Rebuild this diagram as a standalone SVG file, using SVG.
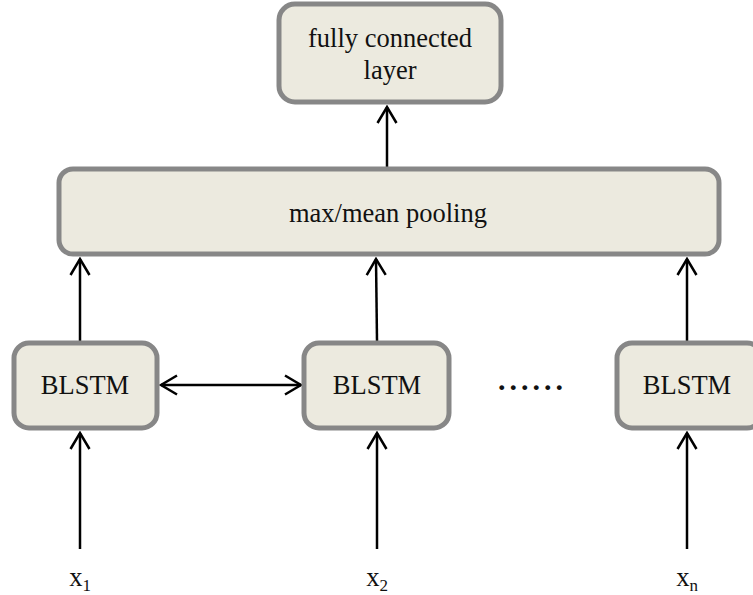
<svg xmlns="http://www.w3.org/2000/svg" width="753" height="595" viewBox="0 0 753 595">
<defs>
<style>
.box{fill:#ECEADF;stroke:#878787;stroke-width:5}
.t{font-family:"Liberation Serif","Times New Roman",serif;font-size:26.5px;fill:#111;text-anchor:middle}
.c{stroke:#000;stroke-width:2.5;fill:none}
.s{font-size:17px}
.d{font-family:"Liberation Serif","Times New Roman",serif;font-size:30px;font-weight:bold;fill:#111;letter-spacing:4px}
</style>
<marker id="ah" viewBox="0 0 20 22" refX="18" refY="11" markerWidth="20" markerHeight="22" markerUnits="userSpaceOnUse" orient="auto-start-reverse">
<path d="M2,1.5 L18,11 L2,20.5" fill="none" stroke="#000" stroke-width="2.5"/>
</marker>
</defs>
<g id="connectors">
<line class="c" x1="387" y1="167" x2="387" y2="107" marker-end="url(#ah)"/>
<line class="c" x1="80" y1="341" x2="80" y2="259" marker-end="url(#ah)"/>
<line class="c" x1="377" y1="341" x2="376" y2="259" marker-end="url(#ah)"/>
<line class="c" x1="687" y1="341" x2="687" y2="259" marker-end="url(#ah)"/>
<line class="c" x1="161" y1="385" x2="301" y2="385" marker-start="url(#ah)" marker-end="url(#ah)"/>
<line class="c" x1="80" y1="549" x2="80" y2="433" marker-end="url(#ah)"/>
<line class="c" x1="377" y1="549" x2="377" y2="433" marker-end="url(#ah)"/>
<line class="c" x1="687" y1="549" x2="687" y2="433" marker-end="url(#ah)"/>
</g>
<g id="fc">
<rect class="box" x="279" y="4" width="222" height="98" rx="16"/>
<text class="t" x="390" y="47">fully connected</text>
<text class="t" x="390" y="79">layer</text>
</g>
<g id="pool">
<rect class="box" x="59" y="169" width="660" height="85" rx="14"/>
<text class="t" x="388" y="222">max/mean pooling</text>
</g>
<g id="blstm1">
<rect class="box" x="14" y="343" width="143" height="85" rx="15"/>
<text class="t" x="85" y="394">BLSTM</text>
</g>
<g id="blstm2">
<rect class="box" x="304" y="343" width="145" height="85" rx="15"/>
<text class="t" x="377" y="394">BLSTM</text>
</g>
<g id="blstm3">
<rect class="box" x="617" y="343" width="145" height="85" rx="15"/>
<text class="t" x="687" y="394">BLSTM</text>
</g>
<g id="dots">
<text class="d" x="498" y="390">......</text>
</g>
<g id="x1"><text class="t" x="80" y="586">x<tspan class="s" dy="5">1</tspan></text></g>
<g id="x2"><text class="t" x="377" y="586">x<tspan class="s" dy="5">2</tspan></text></g>
<g id="xn"><text class="t" x="687" y="586">x<tspan class="s" dy="5">n</tspan></text></g>
</svg>
